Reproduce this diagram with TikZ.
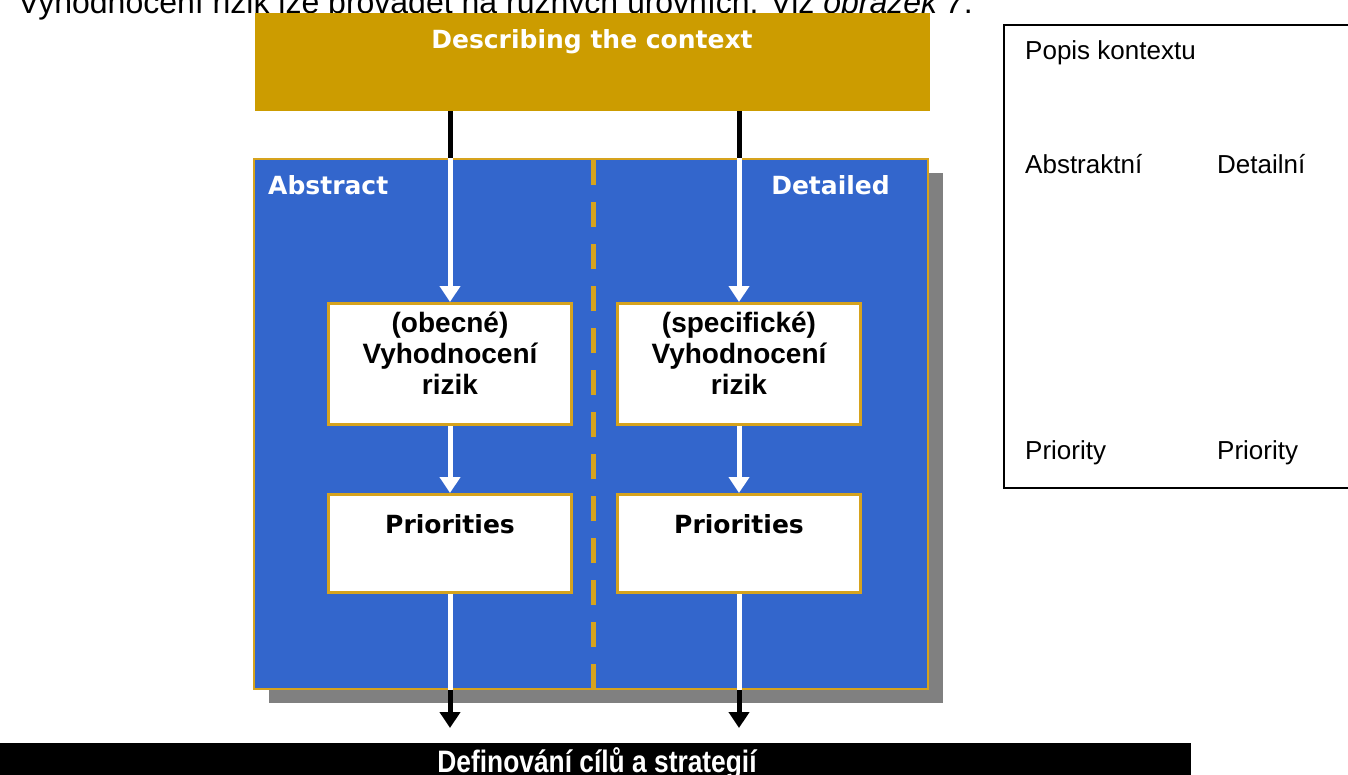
\documentclass[tikz,border=0pt]{standalone}
\usepackage{fontspec}
\setmainfont{Liberation Sans}
\newfontfamily\verd{DejaVu Sans}
\usetikzlibrary{arrows.meta}
\definecolor{gold}{RGB}{204,156,0}
\definecolor{goldline}{RGB}{214,163,30}
\definecolor{panelblue}{RGB}{51,102,204}
\definecolor{shadowgray}{RGB}{128,128,128}
\tikzset{
  goldbox/.style={fill=gold, draw=none, anchor=north west, inner sep=0pt},
  panelbox/.style={fill=panelblue, draw=goldline, line width=1.5pt, anchor=north west, inner sep=0pt},
  shadowbox/.style={fill=shadowgray, draw=none, anchor=north west, inner sep=0pt},
  stepbox/.style={fill=white, draw=goldline, line width=3pt, anchor=north west, inner sep=0pt},
  steptext/.style={font=\fontsize{28}{31}\selectfont\bfseries, align=center, text=black, inner sep=0pt},
  vtext/.style={font=\verd\fontsize{25}{30}\selectfont\bfseries, inner sep=0pt},
  plain/.style={font=\fontsize{26}{30}\selectfont, anchor=base west, inner sep=0pt},
  blackline/.style={draw=black, line width=5pt},
  whitearrow/.style={draw=white, line width=5pt, -{Triangle[width=20pt,length=16pt]}},
  blackarrow/.style={draw=black, line width=5pt, -{Triangle[width=20pt,length=16pt]}},
  divider/.style={draw=goldline, line width=5pt, dash pattern=on 25pt off 17pt},
}
\begin{document}
\begin{tikzpicture}[x=1pt,y=-1pt]
\useasboundingbox (0,0) rectangle (1348,774);
% top sentence (cut off at the top edge, as in the reference)
\node[plain, font=\fontsize{32}{36}\selectfont] (sent) at (18,13) {Vyhodnocení rizik lze provádět na různých úrovních. Viz \textit{obrázek 7}.};
% context box
\node[goldbox, minimum width=675pt, minimum height=98pt] (ctx) at (255,13) {};
\node[vtext, text=white] (ctxt) at (592,42) {Describing the context};
% panel with shadow
\node[shadowbox, minimum width=674pt, minimum height=530pt] (shadow) at (269,173) {};
\node[panelbox, minimum width=674pt, minimum height=530pt] (panel) at (253,158) {};
\node[vtext, text=white, anchor=west] (abs) at (268,185) {Abstract};
\node[vtext, text=white, anchor=east] (det) at (890,185) {Detailed};
% divider
\coordinate (dtop) at (593,160);
\coordinate (dbot) at (593,688);
\draw[divider] (dtop) -- (dbot);
% step boxes
\node[stepbox, minimum width=243pt, minimum height=121pt] (a1) at (327,302) {};
\node[stepbox, minimum width=243pt, minimum height=121pt] (b1) at (616,302) {};
\node[stepbox, minimum width=243pt, minimum height=98pt] (a2) at (327,493) {};
\node[stepbox, minimum width=243pt, minimum height=98pt] (b2) at (616,493) {};
\node[steptext, anchor=north] (a1t) at ([yshift=-10pt]a1.north) {(obecné)\\Vyhodnocení\\rizik};
\node[steptext, anchor=north] (b1t) at ([yshift=-10pt]b1.north) {(specifické)\\Vyhodnocení\\rizik};
\node[vtext] (a2t) at ([yshift=-31pt]a2.north) {Priorities};
\node[vtext] (b2t) at ([yshift=-31pt]b2.north) {Priorities};
% connectors
\draw[blackline] (ctx.south -| a1.north) -- (panel.north -| a1.north);
\draw[blackline] (ctx.south -| b1.north) -- (panel.north -| b1.north);
\draw[whitearrow] (panel.north -| a1.north) -- (a1.north);
\draw[whitearrow] (panel.north -| b1.north) -- (b1.north);
\draw[whitearrow] (a1.south) -- (a2.north);
\draw[whitearrow] (b1.south) -- (b2.north);
\draw[draw=white, line width=5pt] (a2.south) -- (panel.south -| a2.south);
\draw[draw=white, line width=5pt] (b2.south) -- (panel.south -| b2.south);
% bottom bar
\node[fill=black, anchor=north west, minimum width=1191pt, minimum height=40pt, inner sep=0pt] (goal) at (0,743) {};
\node[font=\fontsize{31}{34}\selectfont\bfseries, text=white, anchor=base, inner sep=0pt, xscale=0.85] (goalt) at (597,772) {Definování cílů a strategií};
\draw[blackarrow] (panel.south -| a2.south) -- ([yshift=15pt]goal.north -| a2.south);
\draw[blackarrow] (panel.south -| b2.south) -- ([yshift=15pt]goal.north -| b2.south);
% legend box
\draw[line width=1.5pt] (1360,25) -- (1004,25) -- (1004,488) -- (1360,488);
\node[plain] (l1) at (1025,59) {Popis kontextu};
\node[plain] (l2) at (1025,173) {Abstraktní};
\node[plain] (l3) at (1217,173) {Detailní};
\node[plain] (l4) at (1025,459) {Priority};
\node[plain] (l5) at (1217,459) {Priority};
\end{tikzpicture}
\end{document}
